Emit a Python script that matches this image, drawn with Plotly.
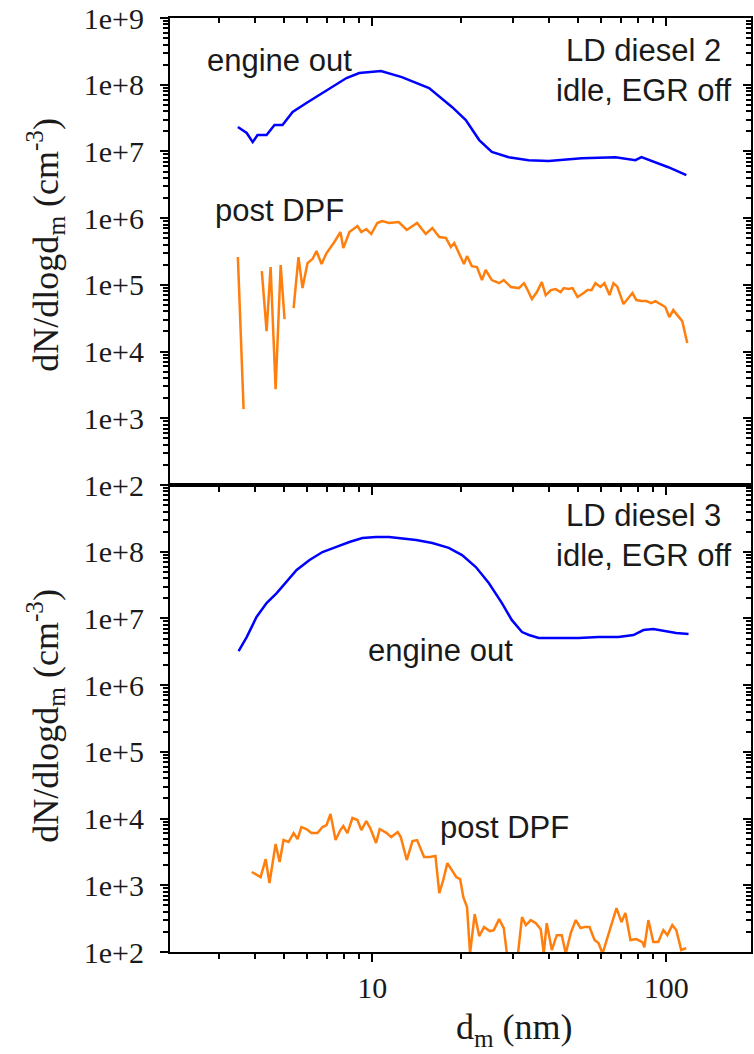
import plotly.graph_objects as go

# ---------------- data ----------------
# Top panel: LD diesel 2, idle, EGR off
top_engine_d = [3.49, 3.74, 3.92, 4.07, 4.37, 4.65, 4.95, 5.36, 5.97, 6.61, 7.32, 8.17, 9.03, 9.77,
                10.7, 12.6, 15.6, 18.7, 20.8, 23.1, 25.5, 29.1, 34.0, 39.8, 51.5, 67.2, 78.5, 82.3,
                101.6, 117]
top_engine_n = [2.32e7, 1.89e7, 1.38e7, 1.76e7, 1.76e7, 2.49e7, 2.49e7, 3.9e7, 5.32e7, 7.0e7, 9.25e7,
                1.26e8, 1.5e8, 1.55e8, 1.6e8, 1.3e8, 8.9e7, 4.6e7, 2.95e7, 1.48e7, 9.8e6, 8.2e6, 7.4e6,
                7.2e6, 7.9e6, 8.2e6, 7.4e6, 8.2e6, 5.8e6, 4.4e6]

top_dpf_d = [3.49, 3.65, 3.9, 4.21, 4.37, 4.51, 4.69, 4.88, 5.03, 5.2, 5.40, 5.61, 5.79, 6.02, 6.26,
             6.46, 6.72, 6.99, 7.43, 7.79, 7.97, 8.36, 8.90, 9.18, 9.54, 9.92, 10.4, 10.8, 11.4, 12.3,
             13.1, 14.2, 15.2, 16.0, 16.9, 17.8, 18.5, 19.0, 20.5, 21.0, 21.8, 22.7, 23.6, 24.3, 25.5,
             27.0, 28.0, 29.6, 31.5, 32.8, 33.5, 34.9, 36.3, 37.7, 38.9, 40.5, 42.0, 43.7, 44.8, 46.5,
             48.0, 49.9, 52.3, 54.0, 55.7, 57.4, 59.7, 61.6, 64.1, 66.1, 68.2, 71.5, 74.3, 76.7, 79.1,
             82.3, 85.5, 88.9, 91.8, 95.4, 99.2, 102.4, 105.6, 109.0, 113.3, 117.8]
top_dpf_n = [2.61e5, 1.37e3, None, 1.61e5, 2.03e4, 1.85e5, 2.74e3, 1.98e5, 3.07e4, None, 4.49e4,
             2.61e5, 8.95e4, 2.12e5, 2.44e5, 3.21e5, 2.05e5, 3.0e5, 4.39e5, 6.19e5, 3.56e5, 6.19e5,
             7.62e5, 6.19e5, 6.87e5, 5.78e5, 8.45e5, 9.06e5, 8.45e5, 8.75e5, 6.64e5, 8.45e5, 5.78e5,
             7.11e5, 5.21e5, 5.04e5, 3.69e5, 4.24e5, 2.05e5, 2.70e5, 1.91e5, 1.85e5, 1.18e5, 1.67e5,
             1.18e5, 1.06e5, 1.18e5, 9.3e4, 8.95e4, 1.06e5, 8.95e4, 6.12e4, 7.8e4, 1.10e5, 7.03e4,
             8.36e4, 8.65e4, 7.8e4, 8.95e4, 8.65e4, 8.95e4, 6.56e4, 7.54e4, 8.36e4, 8.36e4, 1.06e5,
             9.3e4, 1.06e5, 7.03e4, 1.06e5, 9.3e4, 5.15e4, 6.34e4, 7.54e4, 5.92e4, 5.71e4, 5.71e4,
             5.33e4, 5.71e4, 5.15e4, 4.65e4, 3.29e4, 4.19e4, 3.52e4, 2.86e4, 1.34e4]

# Bottom panel: LD diesel 3, idle, EGR off
bot_engine_d = [3.51, 3.74, 4.04, 4.37, 4.73, 5.11, 5.53, 6.12, 6.77, 7.55, 8.36, 9.25, 10.3, 11.4,
                12.6, 14.1, 16.0, 18.2, 20.2, 22.5, 24.9, 27.6, 29.8, 32.3, 34.1, 36.8, 43.0, 50.3,
                58.8, 68.7, 77.3, 83.6, 90.3, 97.7, 108, 119]
bot_engine_n = [3.24e6, 5.26e6, 1.05e7, 1.70e7, 2.40e7, 3.51e7, 5.32e7, 7.51e7, 9.9e7, 1.18e8, 1.40e8,
                1.60e8, 1.66e8, 1.66e8, 1.60e8, 1.50e8, 1.35e8, 1.14e8, 8.9e7, 5.9e7, 3.40e7, 1.70e7,
                9.5e6, 6.25e6, 5.64e6, 5.08e6, 5.08e6, 5.08e6, 5.26e6, 5.26e6, 5.64e6, 6.7e6, 6.93e6,
                6.47e6, 6.04e6, 5.83e6]

bot_dpf_d = [3.89, 4.17, 4.34, 4.47, 4.69, 4.84, 4.99, 5.19, 5.40, 5.57, 5.74, 5.97, 6.21, 6.51, 6.77,
             6.99, 7.21, 7.50, 7.79, 7.97, 8.23, 8.56, 8.90, 9.18, 9.54, 9.84, 10.3, 10.6, 11.2, 11.6,
             12.2, 12.5, 13.1, 13.7, 14.2, 15.0, 15.7, 16.4, 16.9, 17.4, 18.0, 18.7, 19.3, 19.9, 20.4,
             21.0, 21.5, 22.3, 23.1, 24.0, 25.1, 25.9, 27.0, 28.0, 28.7, 30.1, 31.3, 32.3, 33.3, 34.6,
             36.0, 37.4, 38.3, 39.2, 40.8, 42.4, 44.1, 45.5, 47.3, 49.2, 51.1, 52.7, 54.8, 57.0, 58.8,
             60.7, 63.1, 65.1, 67.7, 70.4, 72.6, 75.5, 79.1, 82.9, 84.2, 86.9, 90.3, 93.9, 97.7, 100.8,
             104.8, 108.1, 112.4, 116.9]
bot_dpf_n = [1580, 1330, 2470, 1080, 4150, 2230, 4760, 4450, 6070, 4930, 7460, 6970, 6070, 6070, 7460,
             8000, 11700, 4760, 6730, 7720, 6070, 10200, 9500, 6730, 9180, 7210, 4300, 6970, 6070, 5280,
             6280, 5280, 2390, 4600, 4760, 2650, 2650, 2740, 764, 1160, 2150, 1690, 1330, 1240, 665,
             471, 95, 370, 173, 236, 206, 213, 311, 228, 95, 95, 95, 333, 253, 301,
             271, 220, 95, 271, 107, 179, 179, 95, 192, 301, 228, 236, 236, 151, 136,
             95, 167, 271, 455, 281, 383, 151, 156, 141, 118, 301, 141, 141, 213, 179,
             253, 213, 107, 114]

x_major = [10, 100]
x_major_text = ["10", "100"]
x_minor = [2, 3, 4, 5, 6, 7, 8, 9, 20, 30, 40, 50, 60, 70, 80, 90, 200]
y_major = [1e2, 1e3, 1e4, 1e5, 1e6, 1e7, 1e8, 1e9]
y_major_text = ["1e+2", "1e+3", "1e+4", "1e+5", "1e+6", "1e+7", "1e+8", "1e+9"]
y_minor = [m * 10 ** e for e in range(2, 9) for m in range(2, 10)]

BLUE = "#0000ff"
ORANGE = "#ff7f0e"
SERIF = "Liberation Serif"
SANS = "Liberation Sans"
TXT = "#1a1a1a"

fig = go.Figure()
fig.add_trace(go.Scatter(x=top_engine_d, y=top_engine_n, mode="lines", xaxis="x2", yaxis="y2",
                         line=dict(color=BLUE, width=2.5), connectgaps=False, showlegend=False))
fig.add_trace(go.Scatter(x=top_dpf_d, y=top_dpf_n, mode="lines", xaxis="x2", yaxis="y2",
                         line=dict(color=ORANGE, width=2.5), connectgaps=False, showlegend=False))
fig.add_trace(go.Scatter(x=bot_engine_d, y=bot_engine_n, mode="lines", xaxis="x", yaxis="y",
                         line=dict(color=BLUE, width=2.5), showlegend=False))
fig.add_trace(go.Scatter(x=bot_dpf_d, y=bot_dpf_n, mode="lines", xaxis="x", yaxis="y",
                         line=dict(color=ORANGE, width=2.5), showlegend=False))
# empty traces so that the inward-tick overlay axes (top / right edges) get drawn
for xa, ya in [("x3", "y2"), ("x", "y3"), ("x2", "y4")]:
    fig.add_trace(go.Scatter(x=[], y=[], mode="lines", xaxis=xa, yaxis=ya,
                             showlegend=False, hoverinfo="skip"))

XR = [0.312, 2.288]
YR = [2, 9]


def minor(vals, side="outside"):
    return dict(ticks=side, ticklen=5, tickwidth=1.5, tickcolor="black",
                tickmode="array", tickvals=vals, showgrid=False)


def xax(**kw):
    d = dict(type="log", range=XR, domain=[0, 1], showgrid=False, zeroline=False,
             showline=True, linecolor="black", linewidth=2, mirror=True,
             ticks="outside", ticklen=8, tickwidth=2, tickcolor="black",
             tickmode="array", tickvals=x_major, ticktext=x_major_text,
             tickfont=dict(family=SERIF, size=30, color=TXT),
             minor=minor(x_minor))
    d.update(kw)
    return d


def yax(vals, texts, **kw):
    d = dict(type="log", range=YR, showgrid=False, zeroline=False,
             showline=True, linecolor="black", linewidth=2, mirror=True,
             ticks="outside", ticklen=8, tickwidth=2, tickcolor="black",
             tickmode="array", tickvals=vals, ticktext=texts,
             tickfont=dict(family=SERIF, size=30, color=TXT), ticklabelstandoff=10,
             minor=minor(y_minor))
    d.update(kw)
    return d


fig.update_layout(
    width=754, height=1054, autosize=False,
    margin=dict(l=170, r=1, t=18, b=102, pad=0),
    plot_bgcolor="white", paper_bgcolor="white",
    showlegend=False,
    xaxis=xax(anchor="y", ticklabelstandoff=0),
    yaxis=yax(y_major[:-1], y_major_text[:-1], domain=[0, 0.5], anchor="x"),
    xaxis2=xax(anchor="y2", showticklabels=False),
    yaxis2=yax(y_major, y_major_text, domain=[0.5, 1], anchor="x2"),
    xaxis3=xax(anchor="y2", overlaying="x2", side="top", ticks="inside", showticklabels=False,
               showline=False, mirror=False, minor=minor(x_minor, "inside")),
    yaxis3=yax(y_major, y_major_text, domain=[0, 0.5], anchor="x", overlaying="y", side="right",
               ticks="inside", showticklabels=False, showline=False, mirror=False,
               minor=minor(y_minor, "inside")),
    yaxis4=yax(y_major, y_major_text, domain=[0.5, 1], anchor="x2", overlaying="y2", side="right",
               ticks="inside", showticklabels=False, showline=False, mirror=False,
               minor=minor(y_minor, "inside")),
)

ann_font = dict(family=SANS, size=31, color=TXT)
annotations = [
    dict(text="engine out", x=0.1887, y=0.954, font=ann_font),
    dict(text="LD diesel 2<br>idle, EGR off", x=0.8165, y=0.9433, font=ann_font),
    dict(text="post DPF", x=0.1887, y=0.7934, font=ann_font),
    dict(text="LD diesel 3<br>idle, EGR off", x=0.8165, y=0.4454, font=ann_font),
    dict(text="engine out", x=0.4648, y=0.3223, font=ann_font),
    dict(text="post DPF", x=0.5763, y=0.1328, font=ann_font),
    dict(text="dN/dlogd<sub>m</sub> (cm<sup>-3</sup>)", x=-0.214, y=0.757, textangle=-90,
         font=dict(family=SERIF, size=36, color=TXT)),
    dict(text="dN/dlogd<sub>m</sub> (cm<sup>-3</sup>)", x=-0.214, y=0.2527, textangle=-90,
         font=dict(family=SERIF, size=36, color=TXT)),
    dict(text="d<sub>m</sub> (nm)", x=0.593, y=-0.0835,
         font=dict(family=SERIF, size=36, color=TXT)),
]
for a in annotations:
    a.update(xref="paper", yref="paper", showarrow=False, xanchor="center", yanchor="middle")
fig.update_layout(annotations=annotations)

fig.write_html("out.html")
